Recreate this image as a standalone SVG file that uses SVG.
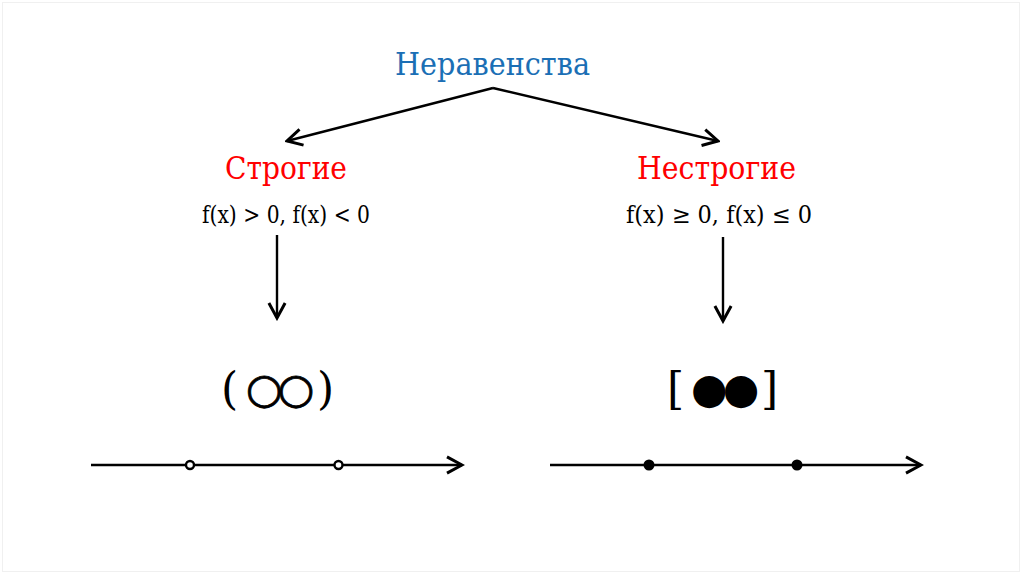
<svg xmlns="http://www.w3.org/2000/svg" width="1024" height="574" viewBox="0 0 1024 574">
<style>
.t{font-family:"DejaVu Serif","Liberation Serif",serif}
.title{font-size:32px;fill:#1b6fb5}
.red{font-size:32px;fill:#ff0000}
.f{font-size:24px;fill:#000}
.br{font-size:44px;fill:#000}
.sym{font-family:"DejaVu Sans",sans-serif;font-size:42px;fill:#000;letter-spacing:-5px}
.ln{stroke:#000;stroke-width:2.4;fill:none}
</style>
<defs>
<marker id="ah" markerUnits="userSpaceOnUse" markerWidth="20" markerHeight="20" viewBox="-14 -8 16 16" refX="0" refY="0" orient="auto">
<path d="M-12,-6.5 L0,0 L-12,6.5" fill="none" stroke="#000" stroke-width="2.4"/>
</marker>
</defs>
<rect x="2.5" y="2.5" width="1017" height="569" fill="#fff" stroke="#f0f0f0" stroke-width="1"/>
<g id="connectors">
<path class="ln" d="M493,88 L287,141" marker-end="url(#ah)"/>
<path class="ln" d="M493,88 L718,141" marker-end="url(#ah)"/>
<path class="ln" d="M277,235 L277,318" marker-end="url(#ah)"/>
<path class="ln" d="M723,237 L723,321" marker-end="url(#ah)"/>
</g>
<g id="title"><text class="t title" x="395" y="75" textLength="195" lengthAdjust="spacingAndGlyphs">Неравенства</text></g>
<g id="strict">
<text class="t red" x="225" y="179" textLength="122" lengthAdjust="spacingAndGlyphs">Строгие</text>
<text class="t f" x="202" y="223" textLength="168" lengthAdjust="spacingAndGlyphs">f(x) &gt; 0, f(x) &lt; 0</text>
</g>
<g id="nonstrict">
<text class="t red" x="637" y="179" textLength="159" lengthAdjust="spacingAndGlyphs">Нестрогие</text>
<text class="t f" x="626" y="223" textLength="186" lengthAdjust="spacingAndGlyphs">f(x) ≥ 0, f(x) ≤ 0</text>
</g>
<g id="open-symbol">
<text class="t br" x="221" y="404">(</text>
<text class="sym" x="246" y="403" stroke="#000" stroke-width="0.8">○○</text>
<text class="t br" x="317" y="404">)</text>
</g>
<g id="closed-symbol">
<text class="t br" x="667" y="404">[</text>
<text class="sym" x="691" y="403">●●</text>
<text class="t br" x="761" y="404">]</text>
</g>
<g id="open-line">
<path class="ln" d="M91,465 L462,465" marker-end="url(#ah)"/>
<circle cx="190" cy="465" r="4" fill="#fff" stroke="#000" stroke-width="2.4"/>
<circle cx="338.5" cy="465" r="4" fill="#fff" stroke="#000" stroke-width="2.4"/>
</g>
<g id="closed-line">
<path class="ln" d="M550,465 L921,465" marker-end="url(#ah)"/>
<circle cx="649" cy="465" r="5.5" fill="#000"/>
<circle cx="797" cy="465" r="5.5" fill="#000"/>
</g>
</svg>
